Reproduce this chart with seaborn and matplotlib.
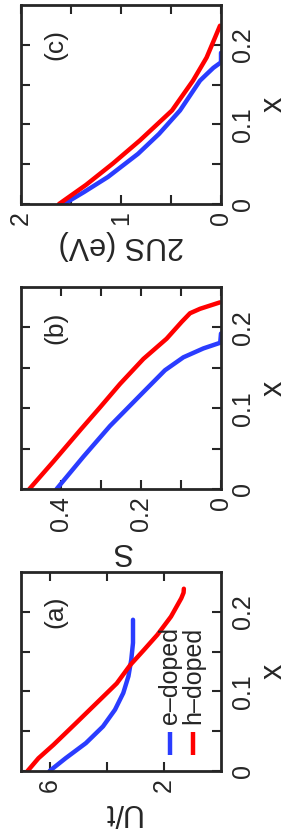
import matplotlib
matplotlib.use("Agg")
import matplotlib.pyplot as plt
import seaborn as sns

# --------------------------------
# DATA
# --------------------------------

# panel (a): U/t vs x
x_a_e = [0.0, 0.016, 0.035, 0.056, 0.077, 0.098, 0.119, 0.14, 0.161, 0.19]
u_a_e = [6.0, 5.44, 4.73, 4.13, 3.71, 3.42, 3.24, 3.14, 3.08, 3.08]
x_a_h = [0.0, 0.016, 0.033, 0.060, 0.089, 0.110, 0.133, 0.152, 0.171, 0.194, 0.217, 0.224, 0.229]
u_a_h = [6.77, 6.39, 5.86, 5.08, 4.25, 3.65, 3.18, 2.70, 2.23, 1.75, 1.39, 1.31, 1.30]

# panel (b): S vs x
x_b_e = [0.0, 0.040, 0.078, 0.12, 0.147, 0.163, 0.174, 0.181, 0.1925]
s_b_e = [0.411, 0.344, 0.2775, 0.194, 0.14, 0.094, 0.044, 0.002, 0.0]
x_b_h = [0.0, 0.034, 0.074, 0.101, 0.13, 0.161, 0.186, 0.207, 0.2175, 0.223, 0.231]
s_b_h = [0.479, 0.419, 0.350, 0.3025, 0.2525, 0.194, 0.136, 0.098, 0.0775, 0.0525, 0.0025]

# panel (c): 2US (eV) vs x
x_c_e = [0.0, 0.015, 0.034, 0.063, 0.088, 0.1175, 0.155, 0.163, 0.171, 0.178, 0.19]
us_c_e = [1.57, 1.37, 1.13, 0.83, 0.62, 0.41, 0.21, 0.144, 0.077, 0.0, 0.0]
x_c_h = [0.0, 0.024, 0.051, 0.080, 0.1175, 0.155, 0.184, 0.209, 0.224]
us_c_h = [1.62, 1.35, 1.08, 0.81, 0.49, 0.28, 0.144, 0.06, 0.01]

doping_ticks = [0, 0.1, 0.2]
doping_labels = ["0", "0.1", "0.2"]
labels = ["e\u2013doped", "h\u2013doped"]

blue = "#2a3cff"
red = "#ff0000"

sns.set_style("ticks")
plt.rcParams["font.family"] = ["Liberation Sans", "DejaVu Sans"]

fig = plt.figure(figsize=(2.89, 8.36), dpi=100)

ax_a = fig.add_axes([21 / 289, 1 - 771 / 836, 200 / 289, 199 / 836])
ax_b = fig.add_axes([21 / 289, 1 - 489 / 836, 200 / 289, 202 / 836])
ax_c = fig.add_axes([21 / 289, 1 - 204 / 836, 200 / 289, 199 / 836])


def setup(ax, vmax, major, major_lab, minor, name, tag):
    ax.set_xlim(vmax, 0)
    ax.set_ylim(0, 0.25)
    ax.set_xticks(major)
    ax.set_xticklabels(major_lab)
    ax.set_xticks(minor, minor=True)
    ax.set_yticks(doping_ticks)
    ax.set_yticklabels(doping_labels)
    ax.set_yticks([0.05, 0.15], minor=True)
    ax.tick_params(which="both", direction="in", top=True, bottom=True,
                   left=True, right=True, length=6.5, width=1.5,
                   labelsize=18)
    ax.tick_params(axis="x", labelrotation=90, pad=5)
    ax.tick_params(axis="y", labelleft=False, labelright=True,
                   labelrotation=90, pad=7)
    ax.yaxis.set_label_position("right")
    ax.set_ylabel("x", rotation=90, fontsize=22, labelpad=3)
    ax.set_xlabel(name, rotation=180, fontsize=22, labelpad=4)
    for lbl in ax.get_yticklabels():
        lbl.set_verticalalignment("center")
    for s in ax.spines.values():
        s.set_linewidth(2)
    ax.text(0.17, 0.80, tag, rotation=90, transform=ax.transAxes,
            ha="center", va="center", fontsize=19)


# --------------------------------
# PANEL (a)
# --------------------------------
sns.lineplot(x=u_a_e, y=x_a_e, sort=False, estimator=None, color=blue, lw=3.2, ax=ax_a)
sns.lineplot(x=u_a_h, y=x_a_h, sort=False, estimator=None, color=red, lw=3.2, ax=ax_a)
setup(ax_a, 7, [6, 2], ["6", "2"], [4], "U/t", "(a)")

# legend drawn rotated by hand
for xpos, col, lab in [(0.745, blue, labels[0]), (0.86, red, labels[1])]:
    ax_a.plot([xpos, xpos], [0.08, 0.196], transform=ax_a.transAxes,
              color=col, lw=3.2, solid_capstyle="butt")
    ax_a.text(xpos, 0.235, lab, rotation=90, transform=ax_a.transAxes,
              ha="center", va="bottom", fontsize=18)

# --------------------------------
# PANEL (b)
# --------------------------------
sns.lineplot(x=s_b_e, y=x_b_e, sort=False, estimator=None, color=blue, lw=3.2, ax=ax_b)
sns.lineplot(x=s_b_h, y=x_b_h, sort=False, estimator=None, color=red, lw=3.2, ax=ax_b)
setup(ax_b, 0.5, [0.4, 0.2, 0], ["0.4", "0.2", "0"], [0.3, 0.1], "S", "(b)")

# --------------------------------
# PANEL (c)
# --------------------------------
sns.lineplot(x=us_c_e, y=x_c_e, sort=False, estimator=None, color=blue, lw=3.2, ax=ax_c)
sns.lineplot(x=us_c_h, y=x_c_h, sort=False, estimator=None, color=red, lw=3.2, ax=ax_c)
setup(ax_c, 2, [2, 1, 0], ["2", "1", "0"], [1.5, 0.5], "2US (eV)", "(c)")

plt.savefig("out.png", dpi=100)
